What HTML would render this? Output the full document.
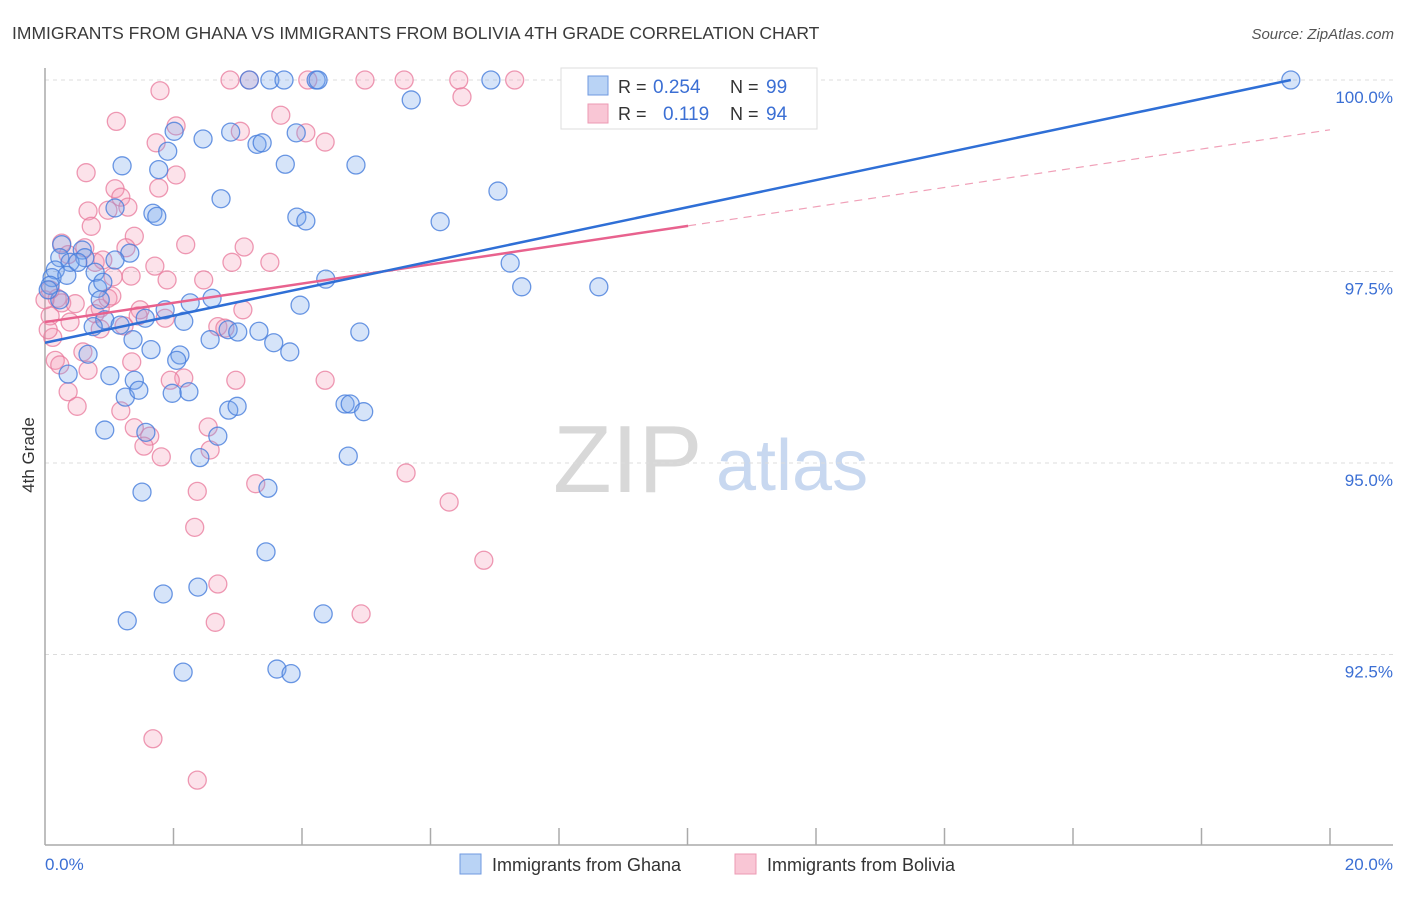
<!DOCTYPE html>
<html><head><meta charset="utf-8"><style>
body{margin:0;background:#fff;font-family:"Liberation Sans",sans-serif}
svg text{font-family:"Liberation Sans",sans-serif}
</style></head><body>
<svg id="chart" width="1406" height="892" viewBox="0 0 1406 892" xmlns="http://www.w3.org/2000/svg">
<text x="12" y="39" font-size="17.5" fill="#3a3a3a">IMMIGRANTS FROM GHANA VS IMMIGRANTS FROM BOLIVIA 4TH GRADE CORRELATION CHART</text>
<text x="1394" y="39" font-size="15" fill="#555" text-anchor="end" font-style="italic">Source: ZipAtlas.com</text>
<g>
<text x="553" y="492" font-size="96" fill="#d8d8d8" font-family="Liberation Serif,serif">ZIP</text>
<text x="716" y="490" font-size="72" fill="#c8d8f0">atlas</text>
</g>
<g id="grid"></g>
<g id="axes"></g>
<g id="pts"></g>
<g id="lines"></g>
<text transform="translate(34,455) rotate(-90)" font-size="17" fill="#333" text-anchor="middle">4th Grade</text>
<text x="45" y="870" font-size="17" fill="#3b6fd4">0.0%</text>
<text x="1393" y="870" font-size="17" fill="#3b6fd4" text-anchor="end">20.0%</text>
<g>
<rect x="561" y="68" width="256" height="61" fill="#fff" stroke="#ddd"/>
<rect x="588" y="76" width="20" height="19" fill="#b9d3f5" stroke="#6f9ae0"/>
<text x="618" y="93" font-size="18" fill="#333">R = </text><text x="653" y="93" font-size="19" fill="#3b6fd4">0.254</text>
<text x="730" y="93" font-size="18" fill="#333">N = </text><text x="766" y="93" font-size="19" fill="#3b6fd4">99</text>
<rect x="588" y="104" width="20" height="19" fill="#f9c6d5" stroke="#ec9ab3"/>
<text x="618" y="120" font-size="18" fill="#333">R = </text><text x="663" y="120" font-size="19" fill="#3b6fd4">0.119</text>
<text x="730" y="120" font-size="18" fill="#333">N = </text><text x="766" y="120" font-size="19" fill="#3b6fd4">94</text>
</g>
<g>
<rect x="460" y="854" width="21" height="20" fill="#b9d3f5" stroke="#6f9ae0"/>
<text x="492" y="871" font-size="18" fill="#333">Immigrants from Ghana</text></g>
<g>
<rect x="735" y="854" width="21" height="20" fill="#f9c6d5" stroke="#ec9ab3"/>
<text x="767" y="871" font-size="18" fill="#333">Immigrants from Bolivia</text></g>
</svg>
<script>
const yTicks=[100,97.5,95,92.5];
const yTickLabels=["100.0%","97.5%","95.0%","92.5%"];
const ghanaX=[8.23,9.15,3.18,3.50,3.72,4.22,4.25,6.94,19.39,5.70,2.01,2.89,2.46,3.91,3.30,3.38,1.91,1.20,1.77,3.74,4.84,7.05,2.74,1.68,1.74,3.92,4.06,6.15,1.09,0.26,0.58,1.32,7.24,0.23,0.62,0.39,0.16,0.78,0.11,0.34,4.37,7.42,8.62,0.82,0.90,0.86,2.60,2.26,1.87,3.97,0.93,1.56,0.75,1.17,2.16,2.85,3.00,3.33,4.90,2.57,1.37,3.56,0.67,1.65,2.10,3.81,2.05,0.36,1.01,1.39,1.25,1.46,1.98,2.24,4.67,4.75,4.96,2.86,2.99,0.93,1.57,2.69,2.41,4.72,1.51,3.47,3.44,2.38,1.84,4.33,1.28,2.15,3.61,3.83,0.08,0.51,0.23,0.05,1.09];
const ghanaY=[100,100,100,100,100,100,100,100,100,99.74,99.33,99.32,99.23,99.31,99.16,99.18,99.07,98.88,98.83,98.90,98.89,98.55,98.45,98.26,98.22,98.21,98.16,98.15,98.33,97.85,97.78,97.74,97.61,97.68,97.68,97.62,97.52,97.49,97.42,97.45,97.40,97.30,97.30,97.28,97.36,97.13,97.15,97.09,97.00,97.06,96.87,96.89,96.78,96.80,96.85,96.74,96.71,96.72,96.71,96.61,96.61,96.57,96.42,96.48,96.41,96.45,96.34,96.16,96.14,96.08,95.86,95.95,95.91,95.93,95.77,95.77,95.67,95.69,95.74,95.43,95.40,95.35,95.07,95.09,94.62,94.67,93.84,93.38,93.29,93.03,92.94,92.27,92.31,92.25,97.32,97.62,97.13,97.26,97.65];
const boliviaX=[2.88,3.18,4.09,4.98,5.59,6.44,7.31,1.79,6.49,1.11,2.04,3.67,1.73,3.04,4.06,4.36,0.64,2.04,1.09,1.18,1.77,1.29,0.98,0.67,0.72,1.39,0.26,0.62,1.26,2.19,3.10,0.36,0.78,0.90,1.71,3.50,2.91,1.06,1.90,2.47,1.34,0.08,0.19,0.26,0.47,0.86,0.98,1.48,3.08,1.45,1.87,0.78,0.39,0.08,0.86,1.23,2.69,2.80,0.12,0.16,0.59,1.35,2.16,2.97,4.36,1.95,0.36,1.18,0.50,1.39,1.63,2.54,1.54,1.81,2.57,5.62,3.28,2.37,6.29,2.33,6.83,2.69,4.92,2.65,1.68,2.37,0.00,0.05,0.23,0.67,1.04];
const boliviaY=[100,100,100,100,100,100,100,99.86,99.78,99.46,99.40,99.54,99.18,99.33,99.31,99.19,98.79,98.76,98.58,98.47,98.59,98.34,98.30,98.29,98.09,97.96,97.87,97.81,97.81,97.85,97.82,97.72,97.62,97.65,97.57,97.62,97.62,97.43,97.39,97.39,97.44,97.26,97.15,97.09,97.08,97.02,97.15,97.00,97.00,96.92,96.89,96.95,96.84,96.92,96.75,96.79,96.78,96.76,96.64,96.34,96.45,96.32,96.11,96.08,96.08,96.08,95.93,95.68,95.74,95.46,95.35,95.47,95.22,95.08,95.17,94.87,94.73,94.63,94.49,94.16,93.73,93.42,93.03,92.92,91.40,90.86,97.13,96.74,96.28,96.21,97.18];
const ghanaFit=[96.57,0.1769]; // intercept, slope
const boliviaFit=[96.84,0.1255];
const ghanaFitRange=[0,19.39];
const boliviaSolidRange=[0,10.01];
const boliviaDashRange=[10.01,20];

const NS="http://www.w3.org/2000/svg";
const X0=45,X1=1330,Y100=80,PX_PER_PCT=76.6;
function sx(v){return X0+(v/20)*(X1-X0);}
function sy(v){return Y100+(100-v)*PX_PER_PCT;}
function mk(tag,attrs,parent){const e=document.createElementNS(NS,tag);for(const k in attrs)e.setAttribute(k,attrs[k]);parent.appendChild(e);return e;}

const grid=document.getElementById('grid');
yTicks.forEach((t,i)=>{
  const l=mk('line',{x1:45,x2:1393,y1:sy(t),y2:sy(t),stroke:'#dcdcdc','stroke-dasharray':'4,4'},grid);
  
  
  const tx=mk('text',{x:1393,y:sy(t)+23,'font-size':17,fill:'#3b6fd4','text-anchor':'end'},grid);
  tx.textContent=yTickLabels[i];
  
  
});
const axes=document.getElementById('axes');
mk('line',{x1:45,x2:45,y1:68,y2:845,stroke:'#aaa','stroke-width':1.5},axes);
mk('line',{x1:45,x2:1393,y1:845,y2:845,stroke:'#aaa','stroke-width':1.5},axes);
for(let v=2;v<=20;v+=2){
  const t=mk('line',{x1:sx(v),x2:sx(v),y1:828,y2:845,stroke:'#aaa','stroke-width':1.5},axes);
  
  
}
const pts=document.getElementById('pts');
function drawSeries(xs,ys,fill,stroke,name){
  xs.forEach((x,i)=>{
    const c=mk('circle',{cx:sx(x),cy:sy(ys[i]),r:9,fill:fill,stroke:stroke,'stroke-width':1.3},pts);
    
    
  });
}
drawSeries(boliviaX,boliviaY,'rgba(244,150,180,0.28)','rgba(232,120,155,0.75)','bolivia-point');
drawSeries(ghanaX,ghanaY,'rgba(120,165,235,0.3)','rgba(70,125,220,0.8)','ghana-point');
const lines=document.getElementById('lines');
function fitLine(fit,range,color,w,dash,name){
  const a={x1:sx(range[0]),y1:sy(fit[0]+fit[1]*range[0]),x2:sx(range[1]),y2:sy(fit[0]+fit[1]*range[1]),stroke:color,'stroke-width':w};
  if(dash)a['stroke-dasharray']=dash;
  const l=mk('line',a,lines);
  
  
}
fitLine(boliviaFit,boliviaSolidRange,'#e8628e',2.5,null,'bolivia-trend-line');
fitLine(boliviaFit,boliviaDashRange,'#f0a0b8',1.2,'8,6','bolivia-trend-extension');
fitLine(ghanaFit,ghanaFitRange,'#2f6fd6',2.5,null,'ghana-trend-line');
</script>
</body></html>
